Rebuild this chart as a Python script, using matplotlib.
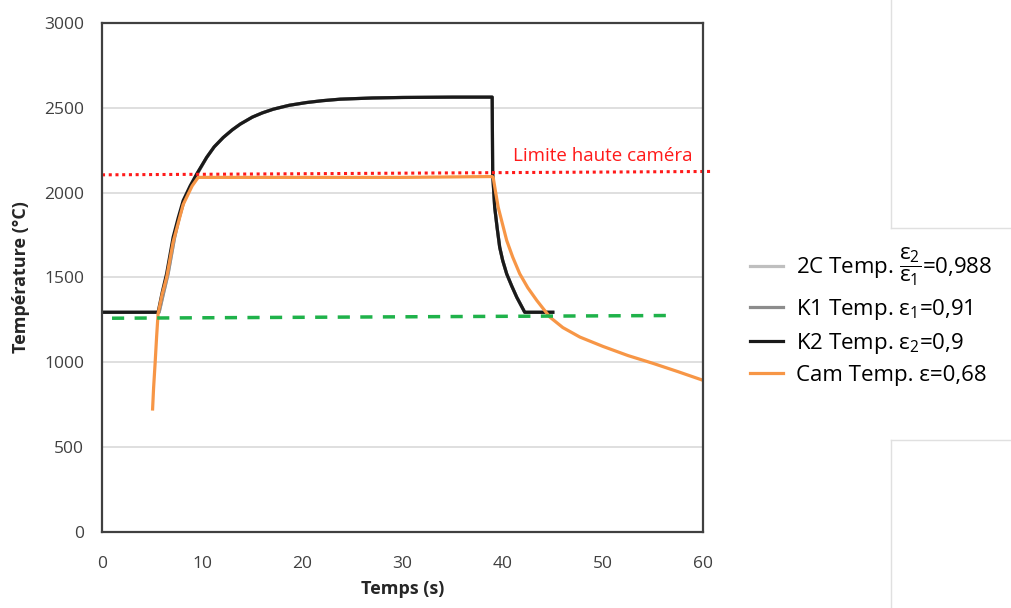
import matplotlib.pyplot as plt
from matplotlib.lines import Line2D

plt.rcParams['font.family'] = ['Open Sans', 'DejaVu Sans']
plt.rcParams['mathtext.fontset'] = 'custom'
plt.rcParams['mathtext.rm'] = 'Open Sans'
plt.rcParams['mathtext.it'] = 'Open Sans'

# thermocouple K2 (black)
k2_t = [0, 5.6, 6.0, 6.45, 7.1, 7.6, 8.1, 8.8, 9.45, 10.45, 11.2, 12.1, 13.0, 13.8, 15.0, 16.0,
        17.1, 18.7, 20.4, 22.0, 23.8, 27, 30, 35, 38.95,
        39.0, 39.2, 39.45, 39.7, 40.0, 40.4, 40.9, 41.4, 42.2, 45]
k2_v = [1295, 1295, 1410, 1523, 1737, 1850, 1953, 2040, 2110, 2208, 2270, 2325, 2370, 2404, 2445, 2470,
        2492, 2515, 2531, 2542, 2551, 2558, 2561, 2563, 2563,
        2110, 1914, 1790, 1678, 1600, 1521, 1450, 1384, 1295, 1295]

# thermocouple K1 and bichromatic 2C (mostly hidden under K2)
k1_t = [0, 5.7, 6.15, 6.6, 7.25, 7.7, 8.2, 8.9, 9.5, 10.45, 11.2, 12.1, 13.0, 13.8, 15.0, 16.0,
        17.1, 18.7, 20.4, 22.0, 23.8, 27, 30, 35, 38.95,
        39.0, 39.2, 39.45, 39.7, 40.0, 40.4, 40.9, 41.4, 42.2, 45]
k1_v = k2_v
c2_t = k1_t
c2_v = k1_v

# camera (orange)
cam_t = [5.05, 5.15, 5.3, 5.45, 5.6, 6.0, 6.45, 7.1, 8.1, 9.0, 9.6, 20, 30, 38.95,
         39.05, 39.3, 39.55, 40.0, 40.4, 41.0, 41.7, 42.5, 43.4, 44.7, 46.0, 47.7,
         50, 52.5, 55, 57.5, 60]
cam_v = [725, 850, 994, 1150, 1288, 1400, 1500, 1710, 1930, 2040, 2090, 2090, 2090, 2095,
         2090, 2000, 1914, 1810, 1718, 1620, 1522, 1440, 1365, 1267, 1205, 1149,
         1094, 1040, 994, 945, 894]

# reference lines
limit_t = [0, 61]
limit_v = [2105, 2125]
green_t = [1, 57]
green_v = [1260, 1276]

labels = [r'2C Temp. $\dfrac{ε_2}{ε_1}$=0,988',
          r'K1 Temp. ε$_1$=0,91',
          r'K2 Temp. ε$_2$=0,9',
          r'Cam Temp. ε=0,68']

fig = plt.figure(figsize=(10.11, 6.08), dpi=100)
ax = fig.add_axes([0.1009, 0.125, 0.5945, 0.8372])

ax.plot(c2_t, c2_v, color='#bfbfbf', lw=2.3, label=labels[0])
ax.plot(k1_t, k1_v, color='#8c8c8c', lw=2.3, label=labels[1])
ax.plot(k2_t, k2_v, color='#1a1a1a', lw=2.3, label=labels[2])
ax.plot(cam_t, cam_v, color='#f79646', lw=2.3, label=labels[3])
ax.plot(limit_t, limit_v, color='#ff1a1a', lw=2.2, ls=(0, (1, 1.2)), clip_on=False)
ax.plot(green_t, green_v, color='#1fb24a', lw=2.5, ls=(0, (3.5, 3)))
ax.text(41, 2218, 'Limite haute caméra', color='#ff1a1a', fontsize=13.5, va='center')

ax.set_xlim(0, 60)
ax.set_ylim(0, 3000)
ax.set_xticks(range(0, 61, 10))
ax.set_yticks(range(0, 3001, 500))
ax.grid(axis='y', color='#d9d9d9', lw=1.2)
ax.set_axisbelow(True)
ax.tick_params(length=0, labelsize=12.5, labelcolor='#404040')
ax.tick_params(axis='y', pad=13)
ax.tick_params(axis='x', pad=17)
for s in ax.spines.values():
    s.set_color('#404040')
    s.set_linewidth(1.6)

ax.set_xlabel('Temps (s)', fontsize=13, fontweight='bold', color='#262626', labelpad=6)
ax.set_ylabel('Température (°C)', fontsize=13, fontweight='bold', color='#262626', labelpad=10)

ax.legend(loc='center left', bbox_to_anchor=(1.045, 0.425), frameon=False, fontsize=16,
          handlelength=1.5, handletextpad=0.55, labelspacing=0.4)

# faint frame remnants on the right
for xs, ys in [([0.881, 0.881], [1.0, 0.625]), ([0.881, 1.0], [0.625, 0.625]),
               ([0.881, 0.881], [0.0, 0.276]), ([0.881, 1.0], [0.276, 0.276])]:
    fig.add_artist(Line2D(xs, ys, color='#e0e0e0', lw=1))

plt.savefig('out.png')
